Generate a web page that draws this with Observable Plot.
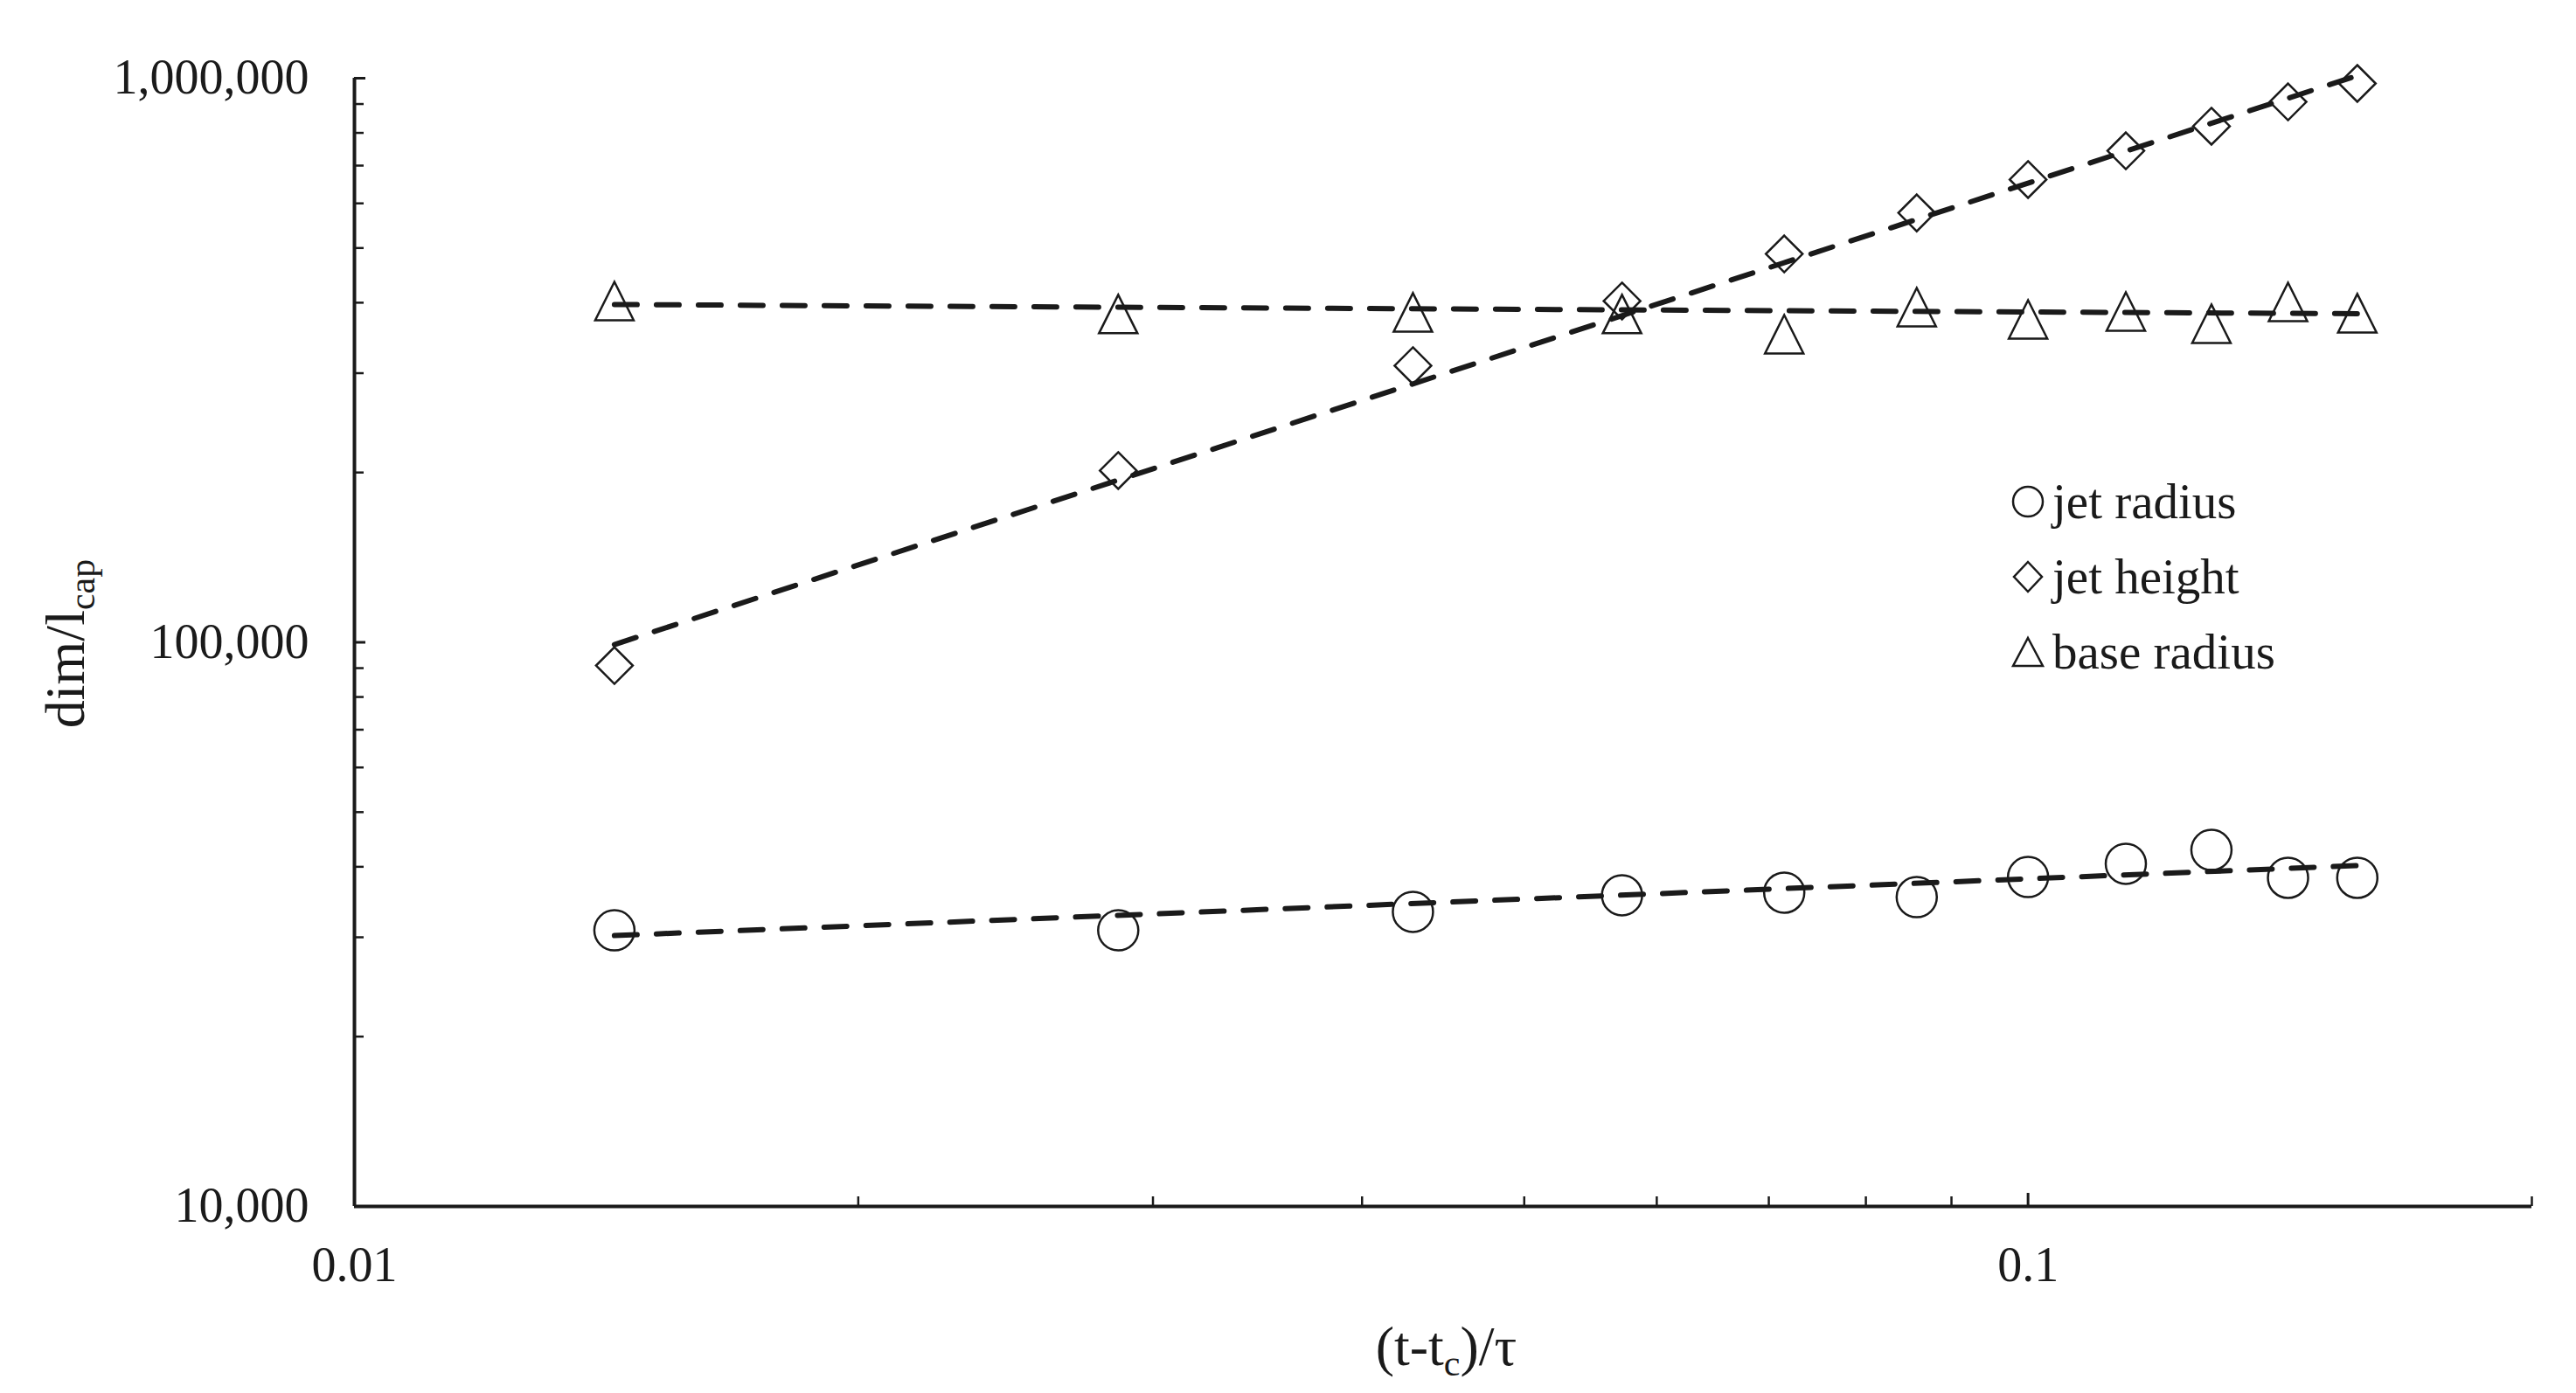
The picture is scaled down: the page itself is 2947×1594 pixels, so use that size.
<!DOCTYPE html>
<html>
<head>
<meta charset="utf-8">
<script src="https://cdn.jsdelivr.net/npm/d3@7"></script>
<script src="https://cdn.jsdelivr.net/npm/@observablehq/plot@0.6"></script>
<style>
  html, body { margin: 0; padding: 0; background: #fff; overflow: hidden; }
  #wrap { position: relative; width: 2947px; height: 1594px; font-family: "Liberation Serif", "Times New Roman", serif; color: #1a1a1a; }
  #legend { position: absolute; left: 2300px; top: 531px; font-family: "Liberation Serif", serif; }
  .row { display: flex; align-items: center; height: 86px; font-size: 57px; line-height: 1.15; font-family: "Liberation Serif", serif; }
  .row span { font-family: "Liberation Serif", serif; }
  .row svg { width: 40px; height: 40px; margin-right: 8px; overflow: visible; }
</style>
</head>
<body>
<div id="wrap"></div>
<script>
// ---- data ----
const time = [0.0143, 0.0286, 0.0429, 0.0572, 0.0715, 0.0858, 0.1, 0.1144, 0.1287, 0.143, 0.1573];
const jetRadius = [30860, 30860, 33280, 35610, 35990, 35350, 38370, 40490, 42850, 38240, 38240];
const jetHeight = [90970, 201600, 309300, 402700, 488200, 577100, 661200, 743700, 821900, 908000, 978800];
const baseRadius = [402700, 381900, 384600, 381900, 351600, 392800, 373600, 385800, 367100, 401200, 383200];
// dashed trend lines: values read at the first and last time
const trendTime = [0.0143, 0.1573];
const jetRadiusTrend = [30210, 40200];
const jetHeightTrend = [99100, 1010700];
const baseRadiusTrend = [397000, 382400];
const seriesNames = ["jet radius", "jet height", "base radius"];
// ticks
const xMajorTicks = [0.01, 0.1];
const xMinorTicks = [0.02, 0.03, 0.04, 0.05, 0.06, 0.07, 0.08, 0.09, 0.2];
const yMajorTicks = [10000, 100000, 1000000];
const yMinorTicks = [20000, 30000, 40000, 50000, 60000, 70000, 80000, 90000,
                     200000, 300000, 400000, 500000, 600000, 700000, 800000, 900000];
const xTitle = ["(t-t", "c", ")/τ"];
const yTitle = ["dim/l", "cap"];

const ink = "#1a1a1a";
const points = time.map((t, i) => ({t, radius: jetRadius[i], height: jetHeight[i], base: baseRadius[i]}));
const trend = trendTime.map((t, i) => ({t, radius: jetRadiusTrend[i], height: jetHeightTrend[i], base: baseRadiusTrend[i]}));

const triangleSymbol = {draw(ctx, size) { const r = Math.sqrt(size / Math.PI); ctx.moveTo(0, -r); ctx.lineTo(r, r); ctx.lineTo(-r, r); ctx.closePath(); }};
const diamondSymbol = {draw(ctx, size) { const r = Math.sqrt(size / Math.PI); ctx.moveTo(0, -r); ctx.lineTo(r, 0); ctx.lineTo(0, r); ctx.lineTo(-r, 0); ctx.closePath(); }};

const dash = {stroke: ink, strokeWidth: 6, strokeDasharray: "26,22", curve: "linear"};
const dotStyle = {stroke: ink, strokeWidth: 2.5, fill: "none"};

const W = 2947, H = 1594, ML = 405, MR = 51, MT = 89, MB = 214;

const chart = Plot.plot({
  width: W, height: H,
  marginLeft: ML, marginRight: MR, marginTop: MT, marginBottom: MB,
  x: {type: "log", domain: [0.01, 0.2]},
  y: {type: "log", domain: [10000, 1000000]},
  style: {fontFamily: '"Liberation Serif", "Times New Roman", serif', fontSize: "56px", color: ink, background: "white"},
  marks: [
    Plot.axisY({ticks: yMinorTicks, tickSize: -11, tickFormat: () => "", label: null, strokeWidth: 2.5}),
    Plot.axisY({ticks: yMajorTicks, tickSize: -13, tickFormat: () => "", label: null, strokeWidth: 3}),
    Plot.axisY({ticks: yMajorTicks, tickSize: 0, tickPadding: 52, tickFormat: d3.format(","), label: null, fontSize: 56}),
    Plot.axisX({ticks: xMinorTicks, tickSize: -11, tickFormat: () => "", label: null, strokeWidth: 2.5}),
    Plot.axisX({ticks: xMajorTicks, tickSize: -15, tickFormat: () => "", label: null, strokeWidth: 3}),
    Plot.axisX({ticks: xMajorTicks, tickSize: 0, tickPadding: 46, tickFormat: d => String(d), label: null, fontSize: 56}),
    Plot.ruleX([0.01], {stroke: ink, strokeWidth: 4}),
    Plot.ruleY([10000], {stroke: ink, strokeWidth: 4}),
    Plot.line(trend, {x: "t", y: "radius", ...dash}),
    Plot.line(trend, {x: "t", y: "height", ...dash}),
    Plot.line(trend, {x: "t", y: "base", ...dash}),
    Plot.dot(points, {x: "t", y: "radius", r: 23, symbol: "circle", ...dotStyle}),
    Plot.dot(points, {x: "t", y: "height", r: 21, symbol: diamondSymbol, ...dotStyle}),
    Plot.dot(points, {x: "t", y: "base", r: 22, symbol: triangleSymbol, ...dotStyle})
  ]
});

const svg = d3.select(chart);
// x axis title
const xt = svg.append("text")
  .attr("x", (ML + W - MR) / 2 + 4).attr("y", 1562)
  .attr("text-anchor", "middle").attr("font-size", 64).attr("fill", ink);
xt.append("tspan").text(xTitle[0]);
xt.append("tspan").attr("font-size", 42).attr("dy", 12).text(xTitle[1]);
xt.append("tspan").attr("dy", -12).text(xTitle[2]);
// y axis title
const yt = svg.append("text")
  .attr("transform", `translate(96, ${(MT + H - MB) / 2 + 2}) rotate(-90)`)
  .attr("text-anchor", "middle").attr("font-size", 64).attr("fill", ink);
yt.append("tspan").text(yTitle[0]);
yt.append("tspan").attr("font-size", 42).attr("dy", 12).text(yTitle[1]);

const wrap = document.getElementById("wrap");
wrap.appendChild(chart);

// legend
const legendShapes = [
  '<circle cx="20" cy="20" r="17" fill="none" stroke="' + ink + '" stroke-width="2.5"/>',
  '<path d="M20,3 L36,20 L20,37 L4,20 Z" fill="none" stroke="' + ink + '" stroke-width="2.5"/>',
  '<path d="M20,4 L37,36 L3,36 Z" fill="none" stroke="' + ink + '" stroke-width="2.5"/>'
];
const legend = document.createElement("div");
legend.id = "legend";
seriesNames.forEach((name, i) => {
  const row = document.createElement("div");
  row.className = "row";
  row.innerHTML = '<svg viewBox="0 0 40 40">' + legendShapes[i] + '</svg><span>' + name + '</span>';
  legend.appendChild(row);
});
wrap.appendChild(legend);
</script>
</body>
</html>
